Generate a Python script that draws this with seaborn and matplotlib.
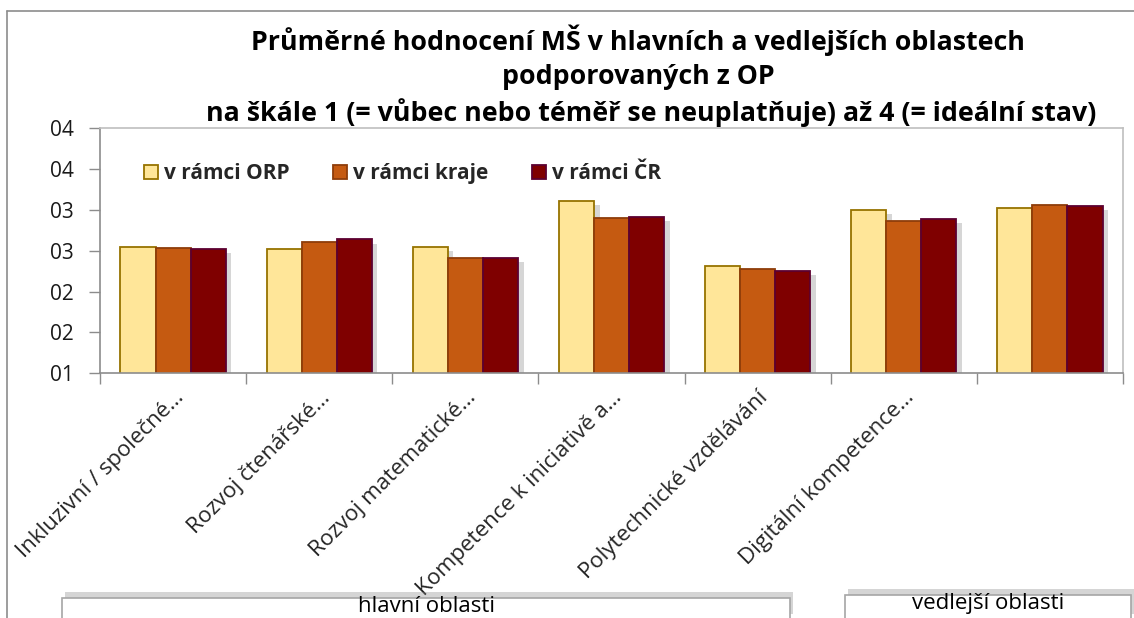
import matplotlib
matplotlib.use("Agg")
import matplotlib.pyplot as plt
import matplotlib.patheffects as pe
import numpy as np
import pandas as pd
import seaborn as sns
from matplotlib.patches import Rectangle
from matplotlib.ticker import FixedLocator, FuncFormatter

sns.set_style("white")
plt.rcParams["font.family"] = ["Open Sans", "DejaVu Sans"]

categories = [
    "Inkluzivní / společné…",
    "Rozvoj čtenářské…",
    "Rozvoj matematické…",
    "Kompetence k iniciativě a…",
    "Polytechnické vzdělávání",
    "Digitální kompetence…",
    "",
]
series = ["v rámci ORP", "v rámci kraje", "v rámci ČR"]
orp = [2.55, 2.52, 2.55, 3.11, 2.32, 3.00, 3.02]
kraj = [2.54, 2.61, 2.41, 2.90, 2.28, 2.86, 3.06]
cr = [2.52, 2.64, 2.41, 2.91, 2.25, 2.89, 3.05]
yticks = [1.0, 1.5, 2.0, 2.5, 3.0, 3.5, 4.0]

fills = ["#FFE699", "#C55A11", "#7F0000"]
edges = ["#967300", "#8E3D0A", "#5C0030"]

# long form table for seaborn
pos = [f"c{i}" for i in range(len(categories))]
df = pd.DataFrame({
    "pos": pos * 3,
    "serie": np.repeat(series, len(categories)),
    "value": orp + kraj + cr,
})

fig = plt.figure(figsize=(11.34, 6.18), dpi=100)
ax = fig.add_axes([100 / 1134, 1 - 373.3 / 618, 1023 / 1134, 245 / 618])

sns.barplot(data=df, x="pos", y="value", hue="serie", order=pos,
            hue_order=series, palette=fills, saturation=1, width=0.72, ax=ax,
            legend=False)

for cont, ec in zip(ax.containers, edges):
    for bar in cont:
        bar.set_edgecolor(ec)
        bar.set_linewidth(1.3)
        bar.set_path_effects([
            pe.SimplePatchShadow(offset=(4, -3), shadow_rgbFace="#7a7a7a", alpha=0.3),
            pe.Normal(),
        ])

ax.set_ylim(1, 4)
ax.set_xlim(-0.5, len(categories) - 0.5)
ax.yaxis.set_major_locator(FixedLocator(yticks))
ax.yaxis.set_major_formatter(FuncFormatter(lambda v, p: f"{int(np.floor(v + 0.5)):02d}"))
ax.tick_params(axis="y", length=8, width=1, color="#8c8c8c", labelsize=15,
               labelcolor="#1a1a1a", pad=11, left=True)

ax.set_xticks(range(len(categories)))
ax.set_xticklabels(categories, rotation=45, ha="right", rotation_mode="anchor",
                   fontsize=16)
ax.tick_params(axis="x", length=0, pad=10)
ax.set_xticks(np.arange(-0.5, len(categories)), minor=True)
ax.tick_params(axis="x", which="minor", length=8, width=1, color="#8c8c8c", bottom=True)
ax.set_xlabel("")
ax.set_ylabel("")

for s in ax.spines.values():
    s.set_visible(True)
    s.set_color("#bfbfbf")
    s.set_linewidth(1.2)
ax.spines["left"].set_color("#8c8c8c")
ax.spines["bottom"].set_color("#8c8c8c")

# legend
handles = [Rectangle((0, 0), 1, 1, facecolor=f, edgecolor=e, linewidth=1.3)
           for f, e in zip(fills, edges)]
ax.legend(handles, series, loc="upper left", bbox_to_anchor=(0.025, 0.935),
          ncol=3, frameon=False, handlelength=0.65, handleheight=0.65,
          handletextpad=0.3, columnspacing=2.1,
          prop={"weight": "bold", "size": 15})

# title
title_lines = [
    ("Průměrné hodnocení MŠ v hlavních a vedlejších oblastech", 638, 40),
    ("podporovaných z OP", 638, 77),
    ("na škále 1 (= vůbec nebo téměř se neuplatňuje) až 4 (= ideální stav)", 651, 113),
]
for txt, x, y in title_lines:
    fig.text(x / 1134, 1 - y / 618, txt, ha="center", va="center",
             fontsize=19.3, fontweight="bold", color="#000000")

# outer chart border
fig.add_artist(plt.Line2D([7 / 1134, 7 / 1134], [0, 1 - 10.5 / 618],
                          transform=fig.transFigure, color="#8c8c8c", lw=1.2))
fig.add_artist(plt.Line2D([7 / 1134, 1], [1 - 10.5 / 618, 1 - 10.5 / 618],
                          transform=fig.transFigure, color="#8c8c8c", lw=1.2))

# multi-level category boxes
boxes = [("hlavní oblasti", 62, 790, 598), ("vedlejší oblasti", 845, 1131, 595)]
for label, x0, x1, top in boxes:
    r = Rectangle((x0 / 1134, 1 - 620 / 618), (x1 - x0) / 1134, (620 - top) / 618,
                  transform=fig.transFigure, facecolor="white", edgecolor="#a6a6a6",
                  linewidth=1.2)
    r.set_path_effects([
        pe.SimplePatchShadow(offset=(2, 4), shadow_rgbFace="#888888", alpha=0.35),
        pe.Normal(),
    ])
    fig.add_artist(r)
    fig.text((x0 + x1) / 2 / 1134, 1 - (top + 9) / 618, label, ha="center",
             va="center", fontsize=16, color="#000000")

fig.savefig("out.png", dpi=100)
